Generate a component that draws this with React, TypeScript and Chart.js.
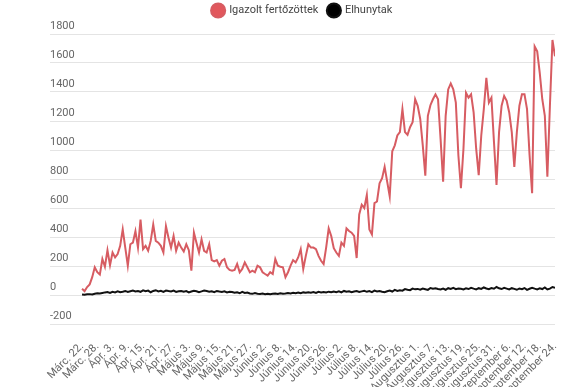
import { useEffect, useRef } from "react";
import { Chart, registerables } from "chart.js";

Chart.register(...registerables);

// Tick labels every 6 days (Márc. 22. – Szeptember 24.)
const tickLabels = [
  "Márc. 22.", "Márc. 28.", "Ápr. 3.", "Ápr. 9.", "Ápr. 15.", "Ápr. 21.", "Ápr. 27.",
  "Május 3.", "Május 9.", "Május 15.", "Május 21.", "Május 27.",
  "Június 2.", "Június 8.", "Június 14.", "Június 20.", "Június 26.",
  "Július 2.", "Július 8.", "Július 14.", "Július 20.", "Július 26.",
  "Augusztus 1.", "Augusztus 7.", "Augusztus 13.", "Augusztus 19.", "Augusztus 25.", "Augusztus 31.",
  "Szeptember 6.", "Szeptember 12.", "Szeptember 18.", "Szeptember 24.",
];
const tickStep = 6;

// Daily confirmed cases (one value per day)
const cases = [
  43, 27, 55, 73, 123, 191, 157, 141, 248, 195,
  309, 205, 293, 259, 282, 339, 452, 327, 202, 350,
  361, 440, 327, 520, 316, 339, 305, 373, 486, 373,
  361, 339, 293, 475, 395, 327, 407, 305, 361, 327,
  300, 350, 309, 168, 430, 361, 293, 384, 305, 293,
  350, 241, 232, 241, 202, 236, 248, 191, 173, 168,
  173, 214, 157, 180, 225, 191, 157, 168, 157, 202,
  191, 157, 145, 134, 157, 145, 248, 202, 195, 191,
  123, 157, 202, 241, 225, 259, 316, 180, 270, 350,
  327, 327, 316, 270, 236, 214, 327, 459, 407, 323,
  293, 270, 361, 339, 459, 441, 430, 407, 255, 555,
  623, 600, 690, 452, 418, 634, 645, 770, 805, 884,
  782, 680, 991, 1032, 1100, 1123, 1282, 1123, 1105, 1157,
  1191, 1350, 1305, 1214, 1032, 823, 1236, 1309, 1350, 1384,
  1350, 1077, 782, 1236, 1418, 1459, 1418, 1327, 964, 736,
  1009, 1395, 1361, 1384, 1259, 1009, 827, 1100, 1282, 1498,
  1327, 1361, 1055, 759, 1123, 1305, 1373, 1339, 1259, 1123,
  884, 1123, 1305, 1384, 1384, 1282, 964, 702, 1714, 1680,
  1532, 1350, 1236, 816, 1305, 1759, 1646,
];

// Daily deaths
const deaths = [
  3, 2, 5, 6, 4, 9, 12, 10, 14, 18,
  20, 14, 22, 18, 25, 19, 23, 28, 21, 26,
  30, 24, 27, 22, 32, 26, 30, 19, 28, 33,
  25, 29, 22, 31, 27, 24, 30, 21, 26, 28,
  23, 27, 18, 24, 29, 26, 20, 25, 31, 27,
  22, 26, 19, 28, 24, 21, 25, 18, 23, 20,
  15, 19, 12, 22, 14, 17, 10, 8, 13, 9,
  7, 10, 6, 9, 5, 8, 11, 7, 12, 9,
  10, 14, 11, 16, 13, 17, 12, 18, 15, 19,
  16, 20, 14, 22, 18, 21, 17, 23, 19, 24,
  20, 25, 18, 28, 22, 26, 19, 24, 27, 21,
  25, 29, 22, 27, 20, 30, 24, 28, 23, 19,
  26, 31, 24, 35, 28, 32, 30, 41, 36, 33,
  44, 39, 42, 37, 45, 40, 35, 48, 43, 46,
  41, 38, 44, 36, 47, 42, 49, 40, 45, 43,
  38, 46, 41, 50, 44, 39, 47, 42, 52, 45,
  40, 48, 43, 55, 46, 41, 49, 44, 38, 47,
  42, 36, 45, 40, 48, 35, 43, 50, 44, 39,
  46, 41, 52, 38, 44, 55, 50,
];

const yTicks = { min: -200, max: 1800, step: 200 };
const xRange = { min: -12.6, max: 186 };

const FONT = "Roboto, 'Noto Sans', sans-serif";

const legendSpacer = {
  id: "legendSpacer",
  beforeInit(chart: any) {
    const legend = chart.legend;
    if (!legend) return;
    const origFit = legend.fit;
    legend.fit = function () {
      origFit.call(this);
      this.height += 8;
    };
  },
};

export default function App() {
  const ref = useRef<HTMLCanvasElement>(null);

  useEffect(() => {
    document.body.style.margin = "0";
    const canvas = ref.current;
    if (!canvas) return;
    const chart = new Chart(canvas, {
      type: "line",
      data: {
        datasets: [
          {
            label: "Igazolt fertőzöttek",
            data: cases.map((y, x) => ({ x, y })),
            borderColor: "#d75c62",
            backgroundColor: "#e2575c",
            borderWidth: 2,
            pointRadius: 0,
            tension: 0,
          },
          {
            label: "Elhunytak",
            data: deaths.map((y, x) => ({ x, y })),
            borderColor: "#111111",
            backgroundColor: "#000000",
            borderWidth: 2,
            pointRadius: 0,
            tension: 0,
          },
        ],
      },
      plugins: [legendSpacer],
      options: {
        animation: false,
        responsive: false,
        layout: { padding: { left: 50, right: 20, top: -5, bottom: 0 } },
        plugins: {
          legend: {
            position: "top",
            fullSize: false,
            labels: {
              usePointStyle: true,
              pointStyle: "circle",
              boxWidth: 11,
              boxHeight: 10,
              padding: 10,
              color: "#444",
              font: { family: FONT, size: 11 },
            },
          },
          tooltip: { enabled: false },
        },
        scales: {
          x: {
            type: "linear",
            min: xRange.min,
            max: xRange.max,
            grid: { display: false },
            border: { display: false },
            afterBuildTicks: (scale: any) => {
              scale.ticks = tickLabels.map((_, k) => ({ value: k * tickStep }));
            },
            afterFit: (scale: any) => {
              scale.height = 63;
            },
            ticks: {
              autoSkip: false,
              minRotation: 45,
              maxRotation: 45,
              padding: 8,
              color: "#666",
              font: { family: FONT, size: 11 },
              callback: (v: any) => tickLabels[Math.round(Number(v) / tickStep)] ?? "",
            },
          },
          y: {
            min: yTicks.min,
            max: yTicks.max,
            grid: { color: "#e4e4e4", drawTicks: false },
            border: { display: false },
            ticks: {
              stepSize: yTicks.step,
              mirror: true,
              padding: 0,
              labelOffset: -8,
              color: "#666",
              font: { family: FONT, size: 11 },
              callback: (v: any) => String(v),
            },
          },
        },
      },
    });
    return () => chart.destroy();
  }, []);

  return <canvas ref={ref} width={575} height={387} style={{ display: "block" }} />;
}
